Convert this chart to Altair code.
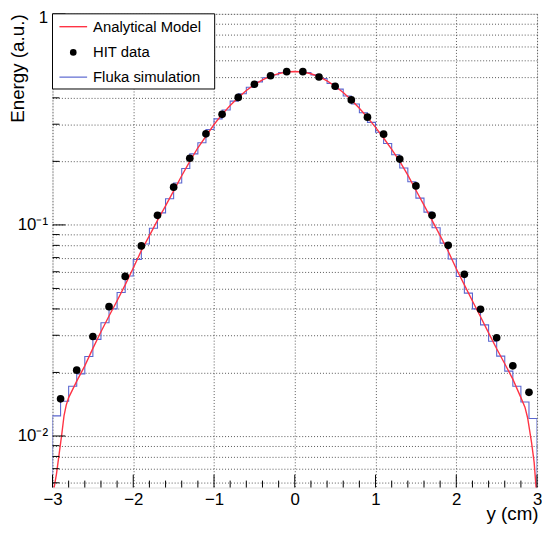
import altair as alt
import pandas as pd

W, H = 490, 479
FONT = "Liberation Sans"

# Analytical model curve
curve_x = [-2.995, -2.98, -2.951, -2.918, -2.885, -2.857, -2.83, -2.8, -2.7, -2.6, -2.5, -2.4, -2.3,
           -2.2, -2.1, -2.0, -1.9, -1.8, -1.7, -1.6, -1.5, -1.4, -1.3, -1.2, -1.1, -1.0,
           -0.9, -0.8, -0.7, -0.6, -0.5, -0.4, -0.3, -0.2, -0.1, 0.0, 0.1, 0.2, 0.3, 0.4,
           0.5, 0.6, 0.7, 0.8, 0.9, 1.0, 1.1, 1.2, 1.3, 1.4, 1.5, 1.6, 1.7, 1.8, 1.9, 2.0,
           2.1, 2.2, 2.3, 2.4, 2.5, 2.6, 2.7, 2.8, 2.85, 2.883, 2.932, 2.964, 2.985, 2.998]
curve_y = [0.0050, 0.0057, 0.0066, 0.0082, 0.0102, 0.0125, 0.0140, 0.0152, 0.0182, 0.0215, 0.0260,
           0.0312, 0.0370, 0.0437, 0.0520, 0.0625, 0.0755, 0.089, 0.105, 0.123, 0.145, 0.171,
           0.200, 0.232, 0.263, 0.299, 0.334, 0.368, 0.401, 0.433, 0.462, 0.487, 0.507, 0.521,
           0.530, 0.533, 0.530, 0.520, 0.504, 0.481, 0.454, 0.424, 0.391, 0.357, 0.323, 0.290,
           0.258, 0.228, 0.200, 0.172, 0.146, 0.124, 0.105, 0.089, 0.075, 0.062, 0.052, 0.0436,
           0.0367, 0.0308, 0.0259, 0.0220, 0.0186, 0.0152, 0.0137, 0.0122, 0.0093, 0.0075,
           0.0059, 0.0050]

# HIT data points
hit_x = [-2.9, -2.7, -2.5, -2.3, -2.1, -1.9, -1.7, -1.5, -1.3, -1.1, -0.9, -0.7, -0.5, -0.3, -0.1,
         0.1, 0.3, 0.5, 0.7, 0.9, 1.1, 1.3, 1.5, 1.7, 1.9, 2.1, 2.3, 2.5, 2.7, 2.9]
hit_y = [0.0150, 0.0205, 0.0296, 0.0410, 0.0570, 0.0795, 0.111, 0.151, 0.207, 0.270, 0.334, 0.402,
         0.464, 0.509, 0.532, 0.532, 0.502, 0.454, 0.391, 0.324, 0.269, 0.205, 0.153, 0.111,
         0.0800, 0.0583, 0.0398, 0.0292, 0.0215, 0.0161]

# Fluka simulation histogram (bin lower edges, bin width 0.1)
hist_lo = [-3.0, -2.9, -2.8, -2.7, -2.6, -2.5, -2.4, -2.3, -2.2, -2.1, -2.0, -1.9, -1.8, -1.7, -1.6,
           -1.5, -1.4, -1.3, -1.2, -1.1, -1.0, -0.9, -0.8, -0.7, -0.6, -0.5, -0.4, -0.3, -0.2, -0.1,
           0.0, 0.1, 0.2, 0.3, 0.4, 0.5, 0.6, 0.7, 0.8, 0.9, 1.0, 1.1, 1.2, 1.3, 1.4, 1.5, 1.6,
           1.7, 1.8, 1.9, 2.0, 2.1, 2.2, 2.3, 2.4, 2.5, 2.6, 2.7, 2.8, 2.9]
hist_v = [0.01245, 0.0146, 0.0172, 0.0197, 0.0238, 0.0287, 0.0344, 0.0400, 0.0478, 0.0573, 0.0686,
          0.0812, 0.0965, 0.114, 0.133, 0.158, 0.185, 0.217, 0.245, 0.283, 0.318, 0.350, 0.386,
          0.418, 0.449, 0.476, 0.498, 0.515, 0.527, 0.533, 0.533, 0.527, 0.514, 0.494, 0.468,
          0.440, 0.408, 0.374, 0.340, 0.306, 0.275, 0.243, 0.215, 0.186, 0.160, 0.134, 0.115,
          0.097, 0.082, 0.069, 0.057, 0.0475, 0.0400, 0.0336, 0.0281, 0.0239, 0.0203, 0.0172,
          0.0145, 0.0121]

x_major = [-3, -2, -1, 0, 1, 2, 3]
x_minor = [-2.8, -2.6, -2.4, -2.2, -1.8, -1.6, -1.4, -1.2, -0.8, -0.6, -0.4, -0.2,
           0.2, 0.4, 0.6, 0.8, 1.2, 1.4, 1.6, 1.8, 2.2, 2.4, 2.6, 2.8]
y_major = [0.01, 0.1, 1.0]
y_minor = [0.006, 0.007, 0.008, 0.009, 0.02, 0.03, 0.04, 0.05, 0.06, 0.07, 0.08, 0.09,
           0.2, 0.3, 0.4, 0.5, 0.6, 0.7, 0.8, 0.9]

legend_labels = ["Analytical Model", "HIT data", "Fluka simulation"]

RED = "#ff3344"
BLUE = "#5a66d0"

xs = alt.Scale(domain=[-3, 3], nice=False, zero=False)
ys = alt.Scale(type="log", domain=[0.0057, 1.0], nice=False)

x_axis = alt.Axis(values=x_major, grid=True, gridDash=[1, 2], gridColor="#444", gridOpacity=0.9,
                  ticks=False, domain=False, labelFontSize=17, labelFont=FONT, labelColor="black",
                  labelPadding=4, labelFlush=False, format="d",
                  title="y (cm)", titleFont=FONT, titleFontSize=19, titleFontWeight="normal",
                  titleColor="black", titleAnchor="end", titleAlign="right", titleX=W + 1,
                  titleY=32, titleBaseline="alphabetic")
y_axis = alt.Axis(values=sorted(y_minor + y_major), grid=True, gridDash=[1, 2], gridColor="#444",
                  gridOpacity=0.9, ticks=False, domain=False, labelFontSize=17, labelFont=FONT,
                  labelColor="black", labelPadding=5, labelOverlap=False, labelFlush=False,
                  labelExpr="datum.value > 0.9 ? '1' : (abs(datum.value - 0.1) < 1e-6 ? '10\u207b\u00b9' : (abs(datum.value - 0.01) < 1e-7 ? '10\u207b\u00b2' : ''))",
                  labelOffset={"condition": {"test": "datum.value > 0.9", "value": 4}, "value": 0},
                  title="Energy (a.u.)", titleFont=FONT, titleFontSize=19,
                  titleFontWeight="normal", titleColor="black", titleAngle=270,
                  titleAlign="right", titleBaseline="middle", titleX=-35, titleY=0)

hist_df = pd.DataFrame({
    "x": [-3.0] + hist_lo + [3.0, 3.0],
    "v": [1e-4] + hist_v + [hist_v[-1], 1e-4],
})
hist_df["i"] = range(len(hist_df))

curve_df = pd.DataFrame({"x": curve_x, "v": curve_y})
hit_df = pd.DataFrame({"x": hit_x, "v": hit_y})

base_grid = alt.Chart(pd.DataFrame({"x": [0.0], "v": [0.1]})).mark_point(opacity=0).encode(
    x=alt.X("x:Q", scale=xs, axis=x_axis),
    y=alt.Y("v:Q", scale=ys, axis=y_axis),
)

hist = alt.Chart(hist_df).mark_line(interpolate="step-after", color=BLUE, strokeWidth=1.1,
                                    clip=True).encode(
    x=alt.X("x:Q", scale=xs), y=alt.Y("v:Q", scale=ys), order="i:Q")

curve = alt.Chart(curve_df).mark_line(color=RED, strokeWidth=1.4, clip=True).encode(
    x=alt.X("x:Q", scale=xs), y=alt.Y("v:Q", scale=ys))

pts = alt.Chart(hit_df).mark_circle(color="black", size=60, opacity=1).encode(
    x=alt.X("x:Q", scale=xs), y=alt.Y("v:Q", scale=ys))

xmaj = alt.Chart(pd.DataFrame({"x": x_major})).mark_rule(color="black", strokeWidth=1).encode(
    x=alt.X("x:Q", scale=xs), y=alt.value(H), y2=alt.value(H - 13))
xmin = alt.Chart(pd.DataFrame({"x": x_minor})).mark_rule(color="black", strokeWidth=1).encode(
    x=alt.X("x:Q", scale=xs), y=alt.value(H), y2=alt.value(H - 7))
ymaj = alt.Chart(pd.DataFrame({"v": y_major})).mark_rule(color="black", strokeWidth=1).encode(
    y=alt.Y("v:Q", scale=ys), x=alt.value(0), x2=alt.value(13))
ymin = alt.Chart(pd.DataFrame({"v": y_minor})).mark_rule(color="black", strokeWidth=1).encode(
    y=alt.Y("v:Q", scale=ys), x=alt.value(0), x2=alt.value(7))

one = pd.DataFrame({"k": [0]})
leg_box = alt.Chart(one).mark_rect(fill="white", stroke="black", strokeWidth=1).encode(
    x=alt.value(0), x2=alt.value(164), y=alt.value(0), y2=alt.value(76))
leg_red = alt.Chart(one).mark_rule(color=RED, strokeWidth=1.4).encode(
    x=alt.value(7), x2=alt.value(35), y=alt.value(13))
leg_dot = alt.Chart(one).mark_circle(color="black", size=45, opacity=1).encode(
    x=alt.value(21), y=alt.value(39))
leg_blue = alt.Chart(one).mark_rule(color=BLUE, strokeWidth=1.2).encode(
    x=alt.value(7), x2=alt.value(35), y=alt.value(64))
leg_text = alt.Chart(pd.DataFrame({"t": legend_labels, "py": [13, 39, 64]})).mark_text(
    align="left", baseline="middle", font=FONT, fontSize=15, color="black").encode(
    text="t:N", x=alt.value(41), y=alt.Y("py:Q", scale=None))

chart = alt.layer(base_grid, hist, curve, pts, xmaj, xmin, ymaj, ymin,
                  leg_box, leg_red, leg_dot, leg_blue, leg_text).properties(
    width=W, height=H,
    autosize=alt.AutoSizeParams(type="none"),
    padding={"left": 45, "top": 3, "right": 5, "bottom": 35},
).configure_view(stroke="black", strokeWidth=1.2).configure(background="white")

chart.save("out.html", embed_options={"renderer": "svg", "actions": False})
